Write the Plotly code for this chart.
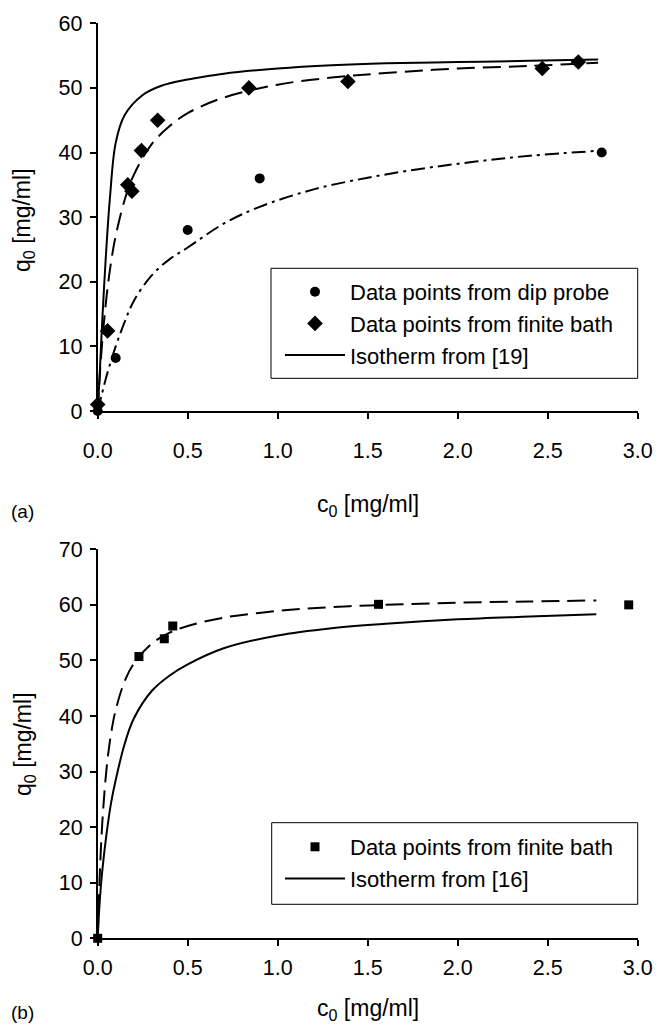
import plotly.graph_objects as go

# ---------------- Panel (a) ----------------
a_probe_c = [0, 0.1, 0.5, 0.9, 2.8]
a_probe_q = [0, 8.2, 28, 36, 40]

a_bath_c = [0, 0.055, 0.167, 0.19, 0.243, 0.333, 0.84, 1.39, 2.47, 2.67]
a_bath_q = [1, 12.4, 35, 34, 40.3, 45, 50, 51, 53, 54]

a_iso_c = [0, 0.01, 0.02, 0.035, 0.05, 0.068, 0.1, 0.15, 0.25, 0.35, 0.5, 0.7, 1.0, 1.3, 1.6, 2.0, 2.4, 2.78]
a_iso_q = [0, 5, 11, 19, 26, 33, 41.5, 45.8, 48.9, 50.3, 51.3, 52.2, 53.0, 53.5, 53.8, 54.0, 54.2, 54.4]

a_bathfit_c = [0, 0.01, 0.025, 0.05, 0.075, 0.1, 0.15, 0.2, 0.3, 0.4, 0.5, 0.7, 1.0, 1.3, 1.6, 2.0, 2.4, 2.78]
a_bathfit_q = [0, 4.8, 10.7, 17.9, 23.2, 27.1, 32.7, 36.5, 41.3, 44.1, 46.1, 48.5, 50.5, 51.6, 52.3, 53.0, 53.4, 53.9]

a_probefit_c = [0, 0.025, 0.05, 0.1, 0.15, 0.2, 0.3, 0.4, 0.5, 0.7, 0.9, 1.2, 1.5, 1.8, 2.1, 2.4, 2.8]
a_probefit_q = [0, 2.8, 5.5, 10, 13.8, 17, 21, 23.5, 25.3, 29.0, 31.6, 34.3, 36.1, 37.5, 38.6, 39.5, 40.3]

# ---------------- Panel (b) ----------------
b_bath_c = [0, 0.229, 0.37, 0.417, 1.56, 2.95]
b_bath_q = [0, 50.7, 53.9, 56.2, 60.1, 60.0]

b_iso_c = [0, 0.01, 0.025, 0.05, 0.075, 0.1, 0.15, 0.2, 0.3, 0.4, 0.5, 0.7, 1.0, 1.3, 1.6, 2.0, 2.4, 2.77]
b_iso_q = [0, 6, 12, 19, 24.5, 28.5, 35, 39.5, 44.5, 47.3, 49.3, 52.2, 54.5, 55.8, 56.6, 57.4, 57.9, 58.3]

b_bathfit_c = [0, 0.01, 0.025, 0.05, 0.075, 0.1, 0.15, 0.2, 0.3, 0.4, 0.5, 0.7, 1.0, 1.3, 1.6, 2.0, 2.4, 2.77]
b_bathfit_q = [0, 10.2, 20.5, 30.8, 37.0, 41.1, 46.3, 49.4, 53.0, 55.0, 56.2, 57.7, 58.9, 59.6, 60.0, 60.4, 60.6, 60.8]

x_ticks = [0, 0.5, 1.0, 1.5, 2.0, 2.5, 3.0]
a_y_ticks = [0, 10, 20, 30, 40, 50, 60]
b_y_ticks = [0, 10, 20, 30, 40, 50, 60, 70]

W, H = 658, 1025
FONT = "Liberation Sans, Arial, sans-serif"
TICK_FS = 21.5
TITLE_FS = 23
LEG_FS = 22

def px_x(p):
    return p / W

def px_y(p):
    return 1 - p / H

fig = go.Figure()

line_w = 2
dash_long = "18px,8px"
dash_dot = "14px,5px,3px,5px"

# Panel (a) traces
fig.add_trace(go.Scatter(x=a_iso_c, y=a_iso_q, mode="lines", line=dict(color="black", width=line_w),
                         line_shape="spline", name="Isotherm from [19]", legend="legend", legendrank=3,
                         xaxis="x", yaxis="y"))
fig.add_trace(go.Scatter(x=a_bathfit_c, y=a_bathfit_q, mode="lines", line=dict(color="black", width=line_w, dash=dash_long),
                         line_shape="spline", showlegend=False, xaxis="x", yaxis="y"))
fig.add_trace(go.Scatter(x=a_probefit_c, y=a_probefit_q, mode="lines", line=dict(color="black", width=line_w, dash=dash_dot),
                         line_shape="spline", showlegend=False, xaxis="x", yaxis="y"))
fig.add_trace(go.Scatter(x=a_probe_c, y=a_probe_q, mode="markers", marker=dict(symbol="circle", size=10, color="black"),
                         name="Data points from dip probe", legend="legend", legendrank=1, cliponaxis=False,
                         xaxis="x", yaxis="y"))
fig.add_trace(go.Scatter(x=a_bath_c, y=a_bath_q, mode="markers", marker=dict(symbol="diamond", size=12, color="black"),
                         name="Data points from finite bath", legend="legend", legendrank=2, cliponaxis=False,
                         xaxis="x", yaxis="y"))

# Panel (b) traces
fig.add_trace(go.Scatter(x=b_iso_c, y=b_iso_q, mode="lines", line=dict(color="black", width=line_w),
                         line_shape="spline", name="Isotherm from [16]", legend="legend2", legendrank=2,
                         xaxis="x2", yaxis="y2"))
fig.add_trace(go.Scatter(x=b_bathfit_c, y=b_bathfit_q, mode="lines", line=dict(color="black", width=line_w, dash=dash_long),
                         line_shape="spline", showlegend=False, xaxis="x2", yaxis="y2"))
fig.add_trace(go.Scatter(x=b_bath_c, y=b_bath_q, mode="markers", marker=dict(symbol="square", size=9, color="black"),
                         name="Data points from finite bath", legend="legend2", legendrank=1, cliponaxis=False,
                         xaxis="x2", yaxis="y2"))

def axis_style(lw, standoff):
    return dict(showline=True, linecolor="black", linewidth=lw, ticks="outside", ticklen=6, tickwidth=lw,
                tickcolor="black", showgrid=False, zeroline=False, automargin=False,
                ticklabelstandoff=standoff,
                tickfont=dict(family=FONT, size=TICK_FS, color="black"))

x_dom = [px_x(97.7), px_x(637.7)]
leg_common = dict(xanchor="left", yanchor="top", bgcolor="rgba(0,0,0,0)", borderwidth=0,
                  font=dict(family=FONT, size=LEG_FS, color="black"), traceorder="normal", itemwidth=60)
fig.update_layout(
    width=W, height=H,
    margin=dict(l=0, r=0, t=0, b=0),
    paper_bgcolor="white", plot_bgcolor="white",
    font=dict(family=FONT, size=TICK_FS, color="black"),
    xaxis=dict(domain=x_dom, range=[0, 3.0], tickvals=x_ticks, tickformat=".1f", anchor="y", **axis_style(2, 13)),
    yaxis=dict(domain=[px_y(411), px_y(23.3)], range=[0, 60], tickvals=a_y_ticks, anchor="x", **axis_style(2, 3)),
    xaxis2=dict(domain=x_dom, range=[0, 3.0], tickvals=x_ticks, tickformat=".1f", anchor="y2", **axis_style(1.5, 3)),
    yaxis2=dict(domain=[px_y(938.3), px_y(549.3)], range=[0, 70], tickvals=b_y_ticks, anchor="x2", **axis_style(1.5, 3)),
    legend=dict(x=px_x(280), y=px_y(271), **leg_common),
    legend2=dict(x=px_x(280), y=px_y(826), **leg_common),
    shapes=[
        dict(type="rect", xref="paper", yref="paper", x0=px_x(271), x1=px_x(637.7), y0=px_y(378.3), y1=px_y(268.3),
             line=dict(color="black", width=1), fillcolor="white", layer="below"),
        dict(type="rect", xref="paper", yref="paper", x0=px_x(271.7), x1=px_x(637.7), y0=px_y(904.3), y1=px_y(822.7),
             line=dict(color="black", width=1), fillcolor="white", layer="below"),
    ],
    annotations=[
        dict(text="c<sub>0</sub> [mg/ml]", xref="paper", yref="paper", x=px_x(368), y=px_y(505), showarrow=False,
             xanchor="center", yanchor="middle", font=dict(family=FONT, size=TITLE_FS)),
        dict(text="c<sub>0</sub> [mg/ml]", xref="paper", yref="paper", x=px_x(368), y=px_y(1009), showarrow=False,
             xanchor="center", yanchor="middle", font=dict(family=FONT, size=TITLE_FS)),
        dict(text="q<sub>0</sub> [mg/ml]", xref="paper", yref="paper", x=px_x(24), y=px_y(220), showarrow=False,
             textangle=-90, xanchor="center", yanchor="middle", font=dict(family=FONT, size=TITLE_FS)),
        dict(text="q<sub>0</sub> [mg/ml]", xref="paper", yref="paper", x=px_x(24), y=px_y(744), showarrow=False,
             textangle=-90, xanchor="center", yanchor="middle", font=dict(family=FONT, size=TITLE_FS)),
        dict(text="(a)", xref="paper", yref="paper", x=px_x(9), y=px_y(511), showarrow=False,
             xanchor="left", yanchor="middle", font=dict(family=FONT, size=19)),
        dict(text="(b)", xref="paper", yref="paper", x=px_x(9), y=px_y(1012), showarrow=False,
             xanchor="left", yanchor="middle", font=dict(family=FONT, size=19)),
    ],
)

fig.write_html("out.html")
